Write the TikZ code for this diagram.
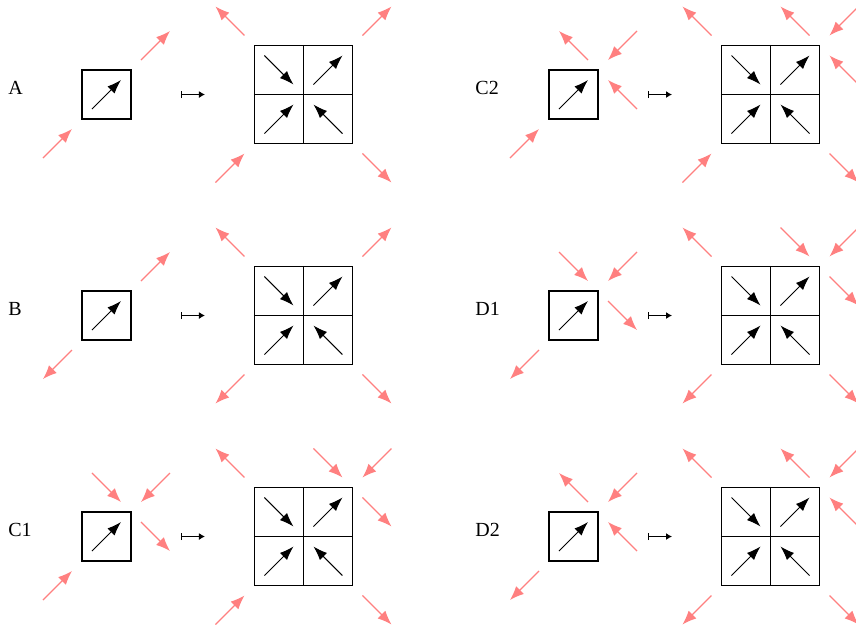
\documentclass[tikz,border=0pt]{standalone}
\usepackage{fontspec}
\setmainfont{Liberation Serif}
\usetikzlibrary{arrows.meta}
\definecolor{spinpink}{RGB}{255,128,128}
\tikzset{
  spinbox/.style={draw, line width=0.6pt, minimum size=24.5pt, inner sep=0pt},
  bigbox/.style={draw, line width=0.6pt, minimum size=49pt, inner sep=0pt},
  spin/.style={-{Latex[length=7pt,width=5pt]}, line width=0.5pt},
  flow/.style={spinpink, -{Latex[length=7pt,width=5.5pt]}, line width=0.6pt},
  maparrow/.style={{Bar[width=3.5pt]}-{Latex[length=3pt,width=3.5pt]}, line width=0.55pt},
  paneltag/.style={anchor=base west, inner sep=0pt, font=\fontsize{10}{12}\selectfont}
}
% half diagonal of an arrow inside one cell
\def\arrd{0.296}
\newcommand\arrNE[3]{\draw[#1] (#2,#3) ++(-\arrd,-\arrd) -- ++(2*\arrd,2*\arrd);}
\newcommand\arrSE[3]{\draw[#1] (#2,#3) ++(-\arrd,\arrd) -- ++(2*\arrd,-2*\arrd);}
\newcommand\arrNW[3]{\draw[#1] (#2,#3) ++(\arrd,-\arrd) -- ++(-2*\arrd,2*\arrd);}
\newcommand\arrSW[3]{\draw[#1] (#2,#3) ++(\arrd,\arrd) -- ++(-2*\arrd,-2*\arrd);}
% small cell, map arrow and the 2x2 block of one panel
\newcommand\panelcore[2]{%
  \node[paneltag] (tag#1) at (-2.01,0) {#2};
  \node[spinbox] (small#1) at (0,0) {};
  \arrNE{spin}{0}{0}
  \coordinate (map#1a) at (1.52,0);
  \coordinate (map#1b) at (2.01,0);
  \draw[maparrow] (map#1a) -- (map#1b);
  \node[bigbox] (big#1) at (4.02,0) {};
  \draw[line width=0.6pt] (big#1.north) -- (big#1.south);
  \draw[line width=0.6pt] (big#1.west) -- (big#1.east);
  \begin{scope}[shift={(4.02,0)}]
    \arrSE{spin}{-0.5}{0.5}
    \arrNE{spin}{0.5}{0.5}
    \arrNE{spin}{-0.5}{-0.5}
    \arrNW{spin}{0.5}{-0.5}
  \end{scope}}
\begin{document}
\begin{tikzpicture}[x=24.5pt,y=24.5pt]
\useasboundingbox (0,0) rectangle (17.469,-12.878);

% A
\begin{scope}[shift={(2.173,-1.929)}]
  \panelcore{A}{A}
  \arrNE{flow}{1}{1}
  \arrNE{flow}{-1}{-1}
  \begin{scope}[shift={(4.02,0)}]
    \arrNW{flow}{-1.5}{1.5}
    \arrNE{flow}{1.5}{1.5}
    \arrNE{flow}{-1.5}{-1.5}
    \arrSE{flow}{1.5}{-1.5}
  \end{scope}
\end{scope}

% C2
\begin{scope}[shift={(11.704,-1.929)}]
  \panelcore{Ctwo}{C2}
  \arrNW{flow}{0}{1}
  \arrSW{flow}{1}{1}
  \arrNW{flow}{1}{0}
  \arrNE{flow}{-1}{-1}
  \begin{scope}[shift={(4.02,0)}]
    \arrNW{flow}{-1.5}{1.5}
    \arrNW{flow}{0.5}{1.5}
    \arrSW{flow}{1.5}{1.5}
    \arrNW{flow}{1.5}{0.5}
    \arrNE{flow}{-1.5}{-1.5}
    \arrSE{flow}{1.5}{-1.5}
  \end{scope}
\end{scope}

% B
\begin{scope}[shift={(2.173,-6.439)}]
  \panelcore{B}{B}
  \arrNE{flow}{1}{1}
  \arrSW{flow}{-1}{-1}
  \begin{scope}[shift={(4.02,0)}]
    \arrNW{flow}{-1.5}{1.5}
    \arrNE{flow}{1.5}{1.5}
    \arrSW{flow}{-1.5}{-1.5}
    \arrSE{flow}{1.5}{-1.5}
  \end{scope}
\end{scope}

% D1
\begin{scope}[shift={(11.704,-6.439)}]
  \panelcore{Done}{D1}
  \arrSE{flow}{0}{1}
  \arrSW{flow}{1}{1}
  \arrSE{flow}{1}{0}
  \arrSW{flow}{-1}{-1}
  \begin{scope}[shift={(4.02,0)}]
    \arrNW{flow}{-1.5}{1.5}
    \arrSE{flow}{0.5}{1.5}
    \arrSW{flow}{1.5}{1.5}
    \arrSE{flow}{1.5}{0.5}
    \arrSW{flow}{-1.5}{-1.5}
    \arrSE{flow}{1.5}{-1.5}
  \end{scope}
\end{scope}

% C1
\begin{scope}[shift={(2.173,-10.949)}]
  \panelcore{Cone}{C1}
  \arrSE{flow}{0}{1}
  \arrSW{flow}{1}{1}
  \arrSE{flow}{1}{0}
  \arrNE{flow}{-1}{-1}
  \begin{scope}[shift={(4.02,0)}]
    \arrNW{flow}{-1.5}{1.5}
    \arrSE{flow}{0.5}{1.5}
    \arrSW{flow}{1.5}{1.5}
    \arrSE{flow}{1.5}{0.5}
    \arrNE{flow}{-1.5}{-1.5}
    \arrSE{flow}{1.5}{-1.5}
  \end{scope}
\end{scope}

% D2
\begin{scope}[shift={(11.704,-10.949)}]
  \panelcore{Dtwo}{D2}
  \arrNW{flow}{0}{1}
  \arrSW{flow}{1}{1}
  \arrNW{flow}{1}{0}
  \arrSW{flow}{-1}{-1}
  \begin{scope}[shift={(4.02,0)}]
    \arrNW{flow}{-1.5}{1.5}
    \arrNW{flow}{0.5}{1.5}
    \arrSW{flow}{1.5}{1.5}
    \arrNW{flow}{1.5}{0.5}
    \arrSW{flow}{-1.5}{-1.5}
    \arrSE{flow}{1.5}{-1.5}
  \end{scope}
\end{scope}
\end{tikzpicture}
\end{document}
